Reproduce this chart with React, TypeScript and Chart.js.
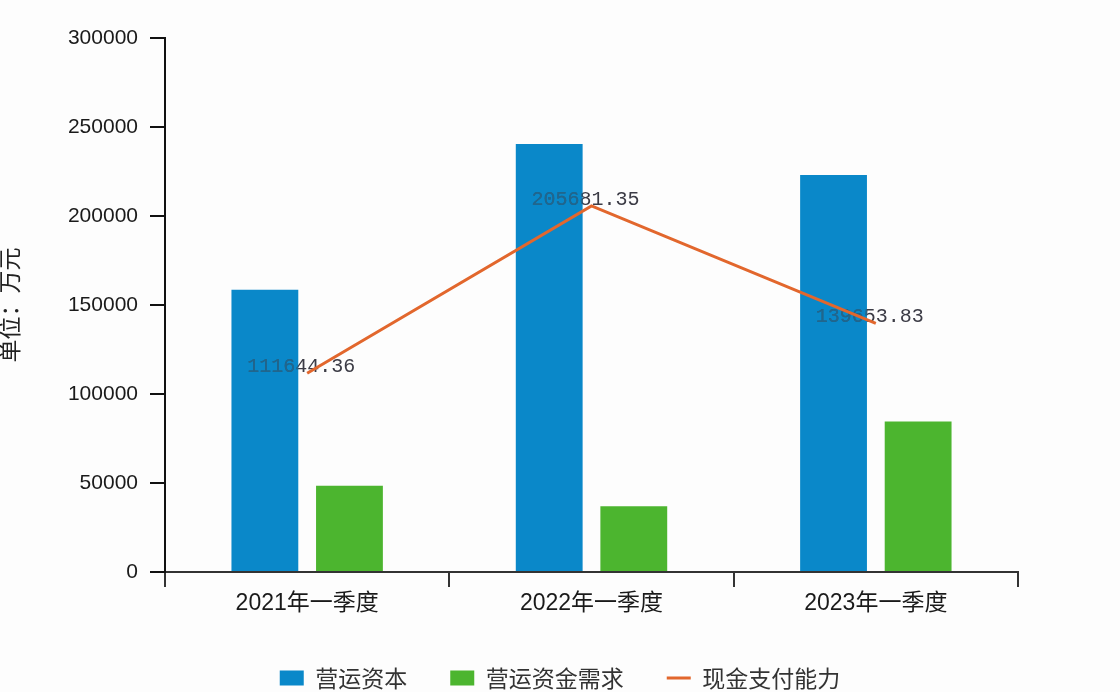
import React, { useEffect, useRef } from 'react';
import { Chart, registerables } from 'chart.js';

Chart.register(...registerables);

const categories = ['2021年一季度', '2022年一季度', '2023年一季度'];
const seriesNames = ['营运资本', '营运资金需求', '现金支付能力'];
const workingCapital = [158500, 240500, 223000];
const workingCapitalDemand = [48500, 37000, 84500];
const cashPaymentAbility = [111644.36, 205681.35, 139653.83];
const yMin = 0;
const yMax = 300000;
const yStep = 50000;
const yTitle = '单位：万元';

const BLUE = '#0a88c9';
const GREEN = '#4cb52f';
const ORANGE = '#e2672d';

const lineLabelPlugin = {
  id: 'lineLabels',
  beforeDatasetDraw(chart: any, args: any) {
    if (args.index !== 2) return;
    const ctx = chart.ctx;
    const meta = chart.getDatasetMeta(2);
    const barMetas = [chart.getDatasetMeta(0), chart.getDatasetMeta(1)];
    ctx.save();
    ctx.font = '20px "Liberation Mono", "DejaVu Sans Mono", monospace';
    ctx.textAlign = 'center';
    ctx.textBaseline = 'alphabetic';
    meta.data.forEach((pt: any, i: number) => {
      const text = cashPaymentAbility[i].toFixed(2);
      const x = pt.x - 6;
      const y = pt.y - 1;
      ctx.fillStyle = '#3c3c46';
      ctx.fillText(text, x, y);
      barMetas.forEach((bm: any) => {
        bm.data.forEach((bar: any) => {
          const p = bar.getProps(['x', 'y', 'base', 'width'], true);
          ctx.save();
          ctx.beginPath();
          ctx.rect(p.x - p.width / 2, p.y, p.width, p.base - p.y);
          ctx.clip();
          ctx.fillStyle = bm.index === 0 ? 'rgba(11,136,201,0.55)' : 'rgba(76,181,47,0.55)';
          ctx.fillText(text, x, y);
          ctx.restore();
        });
      });
    });
    ctx.restore();
  },
};

export default function App() {
  const ref = useRef<HTMLCanvasElement | null>(null);

  useEffect(() => {
    if (!ref.current) return;
    const chart = new Chart(ref.current, {
      type: 'bar',
      data: {
        labels: categories,
        datasets: [
          {
            type: 'bar',
            label: seriesNames[0],
            data: workingCapital,
            backgroundColor: BLUE,
            borderWidth: 0,
            order: 1,
            barPercentage: 0.79,
            categoryPercentage: 0.595,
          },
          {
            type: 'bar',
            label: seriesNames[1],
            data: workingCapitalDemand,
            backgroundColor: GREEN,
            borderWidth: 0,
            order: 1,
            barPercentage: 0.79,
            categoryPercentage: 0.595,
          },
          {
            type: 'line',
            label: seriesNames[2],
            data: cashPaymentAbility,
            borderColor: ORANGE,
            backgroundColor: ORANGE,
            borderWidth: 3,
            pointRadius: 0,
            tension: 0,
            fill: false,
            order: 0,
          } as any,
        ],
      },
      options: {
        responsive: false,
        animation: false,
        layout: { padding: { top: 38, right: 0, left: 0, bottom: -7.5 } },
        plugins: {
          tooltip: { enabled: false },
          legend: {
            position: 'bottom',
            labels: {
              usePointStyle: true,
              pointStyleWidth: 24,
              boxHeight: 15,
              padding: 43,
              color: '#333',
              font: { size: 23, family: '"Noto Sans CJK SC", sans-serif' },
              sort: (a: any, b: any) => a.datasetIndex - b.datasetIndex,
              generateLabels: (c: any) => {
                const items = (Chart.defaults.plugins.legend.labels as any).generateLabels(c);
                return items.map((it: any) => {
                  const isLine = it.datasetIndex === 2;
                  return {
                    ...it,
                    pointStyle: isLine ? 'line' : 'rect',
                    lineWidth: isLine ? 3 : 0,
                    strokeStyle: isLine ? ORANGE : it.fillStyle,
                  };
                });
              },
            },
          },
        },
        scales: {
          x: {
            grid: {
              offset: true,
              drawOnChartArea: false,
              drawTicks: true,
              tickLength: 15,
              color: '#333',
              lineWidth: 2,
            },
            border: { display: true, color: '#333', width: 2 },
            ticks: {
              padding: 3,
              color: '#1a1a1a',
              font: { size: 23, family: '"Liberation Sans", "Noto Sans CJK SC", sans-serif' },
            },
            afterFit: (scale: any) => {
              scale.height = 51.5;
            },
          },
          y: {
            min: yMin,
            max: yMax,
            grid: {
              drawOnChartArea: false,
              drawTicks: true,
              tickLength: 15,
              color: '#111',
              lineWidth: 2,
            },
            border: { display: true, color: '#111', width: 2 },
            ticks: {
              stepSize: yStep,
              padding: 12,
              color: '#1a1a1a',
              font: { size: 21, family: '"Liberation Sans", Arial, sans-serif' },
              callback: (v: any) => String(v),
            },
            title: {
              display: true,
              text: yTitle,
              color: '#222',
              padding: { top: -2, bottom: 0 },
              font: { size: 23, family: '"Noto Sans CJK SC", sans-serif', lineHeight: 1 },
            },
            afterFit: (scale: any) => {
              scale.width = 165;
            },
          },
          yRightSpacer: {
            type: 'linear',
            position: 'right',
            display: true,
            grid: { display: false, drawTicks: false },
            border: { display: false },
            ticks: { display: false },
            afterFit: (scale: any) => {
              scale.width = 102;
            },
          } as any,
        },
      },
      plugins: [lineLabelPlugin],
    });
    return () => chart.destroy();
  }, []);

  return (
    <div style={{ position: 'absolute', left: 0, top: 0, width: 1120, height: 692, background: '#fdfdfd' }}>
      <canvas ref={ref} width={1120} height={692} style={{ display: 'block' }} />
    </div>
  );
}
